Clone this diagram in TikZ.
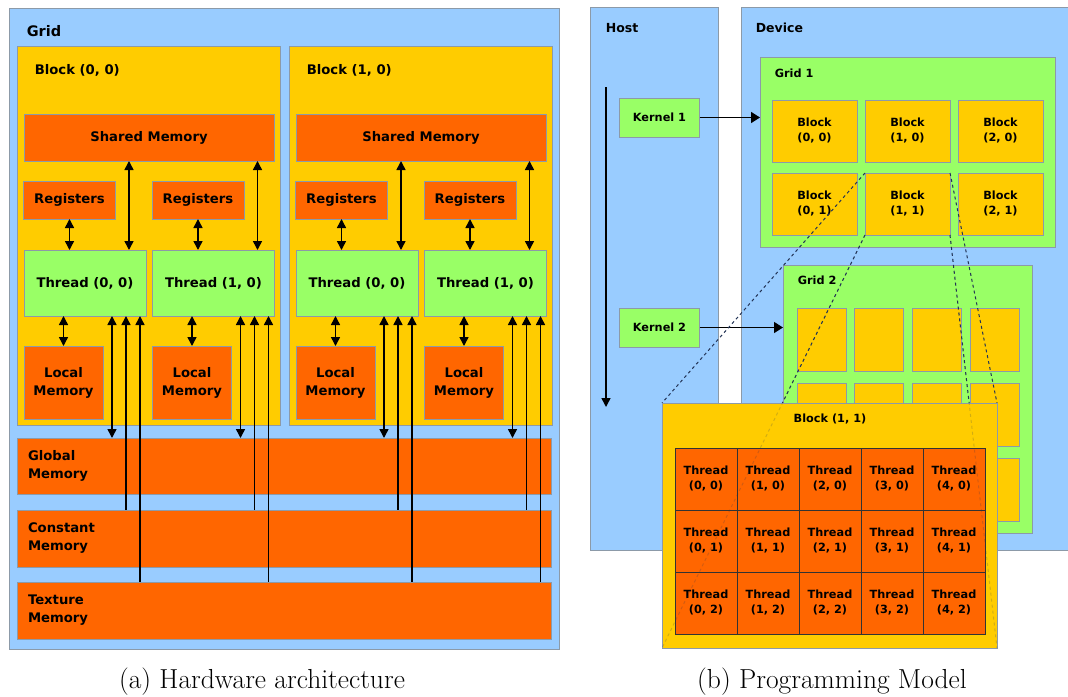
\documentclass[tikz,border=0pt]{standalone}
\usepackage{fontspec}
\newfontfamily\dvs{DejaVu Sans}
\usetikzlibrary{arrows.meta,positioning}
\definecolor{paneblue}{HTML}{99CCFF}
\definecolor{blkgold}{HTML}{FFCC00}
\definecolor{memorange}{HTML}{FF6600}
\definecolor{thgreen}{HTML}{99FF66}
\definecolor{edgegray}{HTML}{8C9AA8}
\definecolor{dashblue}{HTML}{223355}
\pgfdeclarelayer{front}
\pgfsetlayers{main,front}

\begin{document}
\begin{tikzpicture}[
	x = 1pt, y = -1pt, % one unit per pixel, y grows downwards
	> = {Triangle[length=9pt, width=9pt]}, % arrow head style
	line width = 1pt,
	Box/.style={rectangle, draw=edgegray, inner sep=0pt, outer sep=0pt},
	Pane/.style={Box, fill=paneblue},
	Blk/.style={Box, fill=blkgold},
	Mem/.style={Box, fill=memorange},
	Th/.style={Box, fill=thgreen},
	Cell/.style={Box, draw=black!80, fill=memorange, minimum width=62pt, minimum height=62pt, Sm},
	Big/.style={font=\dvs\bfseries\fontsize{13.2}{18}\selectfont, align=center},
	Sm/.style={font=\dvs\bfseries\fontsize{11.3}{15}\selectfont, align=center},
	Hd/.style={font=\dvs\bfseries\fontsize{12.5}{15}\selectfont, anchor=base west},
	Cap/.style={font=\rmfamily\fontsize{27.5}{30}\selectfont, anchor=base},
	Link/.style={->, line width=1.5pt},
	Both/.style={<->, line width=1.5pt},
	Zoom/.style={draw=dashblue, dash pattern=on 3pt off 3pt, line width=1pt},
	]
	\useasboundingbox (0,0) rectangle (1068,696);

	% (a) hardware side
	\node[Pane, minimum width=550pt, minimum height=641pt] (grid) at (284,328.5) {};
	\node[Big, anchor=base west, font=\dvs\bfseries\fontsize{14.5}{18}\selectfont] (gridl) at (23,36) {Grid};

	\foreach \b in {0,1} {
		\begin{scope}[xshift=272*\b]
			\node[Blk, minimum width=263pt, minimum height=379pt] (blk\b) at (148.5,235.5) {};
			\node[Big, anchor=base west] (blkl\b) at (31,74) {Block (\b, 0)};
			\node[Mem, Big, minimum width=250pt, minimum height=47pt] (sh\b) at (149,137.5) {Shared Memory};
			\foreach \j in {0,1} {
				\node[Mem, Big, minimum width=92pt, minimum height=38pt] (rg\b\j) at (69.5+128.5*\j,200) {Registers};
				\node[Th, Big, minimum width=122pt, minimum height=66pt] (th\b\j) at (85+128.5*\j,283) {Thread (\j, 0)};
				\node[Mem, Big, minimum width=79pt, minimum height=73pt] (lm\b\j) at (63.5+128.5*\j,382.5) {Local\\Memory};
			}
		\end{scope}
	}

	% memories shared by all blocks
	\node[Mem, Big, minimum width=534pt, minimum height=56pt, text width=512pt, align=left] (glo) at (284,466) {Global\\Memory};
	\node[Mem, Big, minimum width=534pt, minimum height=57pt, text width=512pt, align=left] (con) at (284,538.5) {Constant\\Memory};
	\node[Mem, Big, minimum width=534pt, minimum height=57pt, text width=512pt, align=left] (tex) at (284,610.5) {Texture\\Memory};

	% Paths connecting threads and memories
	\foreach \b in {0,1} {
		\foreach \j in {0,1} {
			\draw[Both] (rg\b\j.south) -- (rg\b\j.south |- th\b\j.north);
			\coordinate (sa\b\j) at ([xshift=-17pt]th\b\j.north east);
			\draw[Both] (sa\b\j |- sh\b.south) -- (sa\b\j);
			\draw[Both] (lm\b\j.north |- th\b\j.south) -- (lm\b\j.north);
			\coordinate (ga\b\j) at ([xshift=-34pt]th\b\j.south east);
			\draw[Both] (ga\b\j) -- (ga\b\j |- glo.north);
			\coordinate (ca\b\j) at ([xshift=-20pt]th\b\j.south east);
			\draw[Link, <-] (ca\b\j) -- (ca\b\j |- con.north);
			\coordinate (ta\b\j) at ([xshift=-6pt]th\b\j.south east);
			\draw[Link, <-] (ta\b\j) -- (ta\b\j |- tex.north);
		}
	}

	\node[Cap] (capa) at (262,688) {(a) Hardware architecture};

	% (b) programming model
	\node[Pane, minimum width=128pt, minimum height=543pt] (host) at (654,278.5) {};
	\node[Pane, minimum width=335pt, minimum height=543pt] (dev) at (908.5,278.5) {};
	\node[Hd] (hostl) at (602,32) {Host};
	\node[Hd] (devl) at (752,32) {Device};
	\coordinate (tl0) at (606,87);
	\coordinate (tl1) at (606,407);
	\draw[Link] (tl0) -- (tl1);

	% first kernel and its grid
	\node[Th, Sm, minimum width=80pt, minimum height=39pt] (k1) at (659.5,117.5) {Kernel 1};
	\node[Th, minimum width=295pt, minimum height=190pt] (g1) at (907.5,152) {};
	\node[Sm, anchor=base west] (g1l) at (771,77) {Grid 1};
	\foreach \i in {0,1,2}
		\foreach \j in {0,1}
			\node[Blk, Sm, minimum width=85pt, minimum height=62pt] (b\i\j) at (814.5+93*\i,131+73*\j) {Block\\(\i, \j)};
	\draw[Link, -{Triangle[length=9pt, width=11pt]}] (k1) -- (k1 -| g1.west);

	% second kernel and its grid
	\node[Th, Sm, minimum width=80pt, minimum height=39pt] (k2) at (659.5,327.5) {Kernel 2};
	\node[Th, minimum width=249pt, minimum height=268pt] (g2) at (907.5,399) {};
	\node[Sm, anchor=base west] (g2l) at (794,284) {Grid 2};
	\foreach \i in {0,...,3}
		\foreach \j in {0,1,2}
			\node[Blk, minimum width=49pt, minimum height=63pt] (gb\i\j) at (821.5+57.7*\i,340+75*\j) {};
	\draw[Link, -{Triangle[length=9pt, width=11pt]}] (k2) -- (k2 -| g2.west);

	% enlarged block with its threads
	\begin{pgfonlayer}{front}
		\node[Blk, minimum width=335pt, minimum height=245pt] (ov) at (829.5,525.5) {};
		\node[Sm, anchor=base] (ovl) at (830,422) {Block (1, 1)};
		\foreach \i in {0,...,4}
			\foreach \j in {0,1,2}
				\node[Cell] (tc\i\j) at (706+62*\i,479+62*\j) {Thread\\(\i, \j)};
	\end{pgfonlayer}

	% zoom lines
	\draw[Zoom] (b11.north west) -- (ov.north west);
	\draw[Zoom] (b11.south west) -- (ov.south west);
	\draw[Zoom] (b11.north east) -- (ov.north east);
	\draw[Zoom] (b11.south east) -- (ov.south east);
	\begin{pgfonlayer}{front}
		\draw[Zoom, draw opacity=0.2] (b11.south west) -- (ov.south west);
		\draw[Zoom, draw opacity=0.2] (b11.south east) -- (ov.south east);
	\end{pgfonlayer}

	\node[Cap] (capb) at (832,688) {(b) Programming Model};

\end{tikzpicture}
\end{document}
